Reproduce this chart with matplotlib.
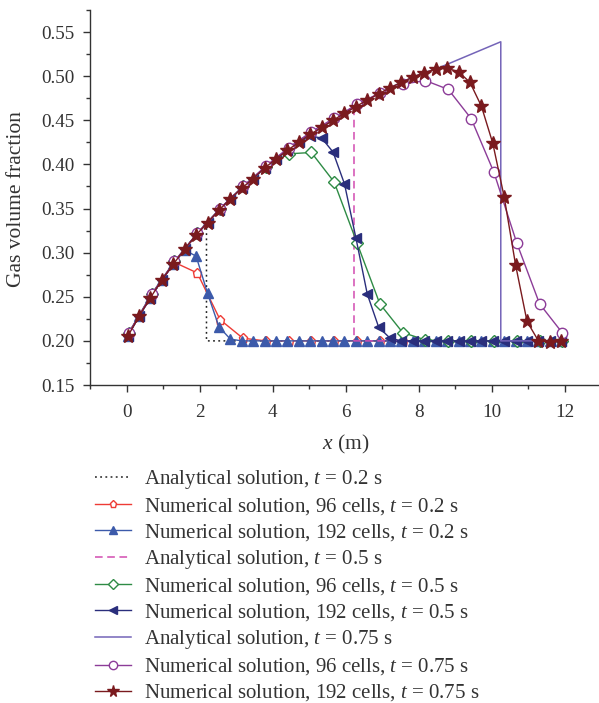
import matplotlib as mpl
import matplotlib.pyplot as plt
from matplotlib.ticker import MultipleLocator

mpl.rcParams.update(
    {
        "font.family": "serif",
        "font.serif": ["Liberation Serif", "DejaVu Serif"],
        "mathtext.fontset": "custom",
        "mathtext.rm": "Liberation Serif",
        "mathtext.it": "Liberation Serif:italic",
        "font.size": 13,
    }
)

# ---- data ------------------------------------------------------------------
# grid of the 192-cell markers (every 5th cell) and the 96-cell markers
x192 = [0.031, 0.344, 0.656, 0.969, 1.281, 1.594, 1.906, 2.219, 2.531, 2.844,
        3.156, 3.469, 3.781, 4.094, 4.406, 4.719, 5.031, 5.344, 5.656, 5.969,
        6.281, 6.594, 6.906, 7.219, 7.531, 7.844, 8.156, 8.469, 8.781, 9.094,
        9.406, 9.719, 10.031, 10.344, 10.656, 10.969, 11.281, 11.594, 11.906]
x96 = [0.0625, 0.6875, 1.3125, 1.9375, 2.5625, 3.1875, 3.8125, 4.4375, 5.0625, 5.6875,
       6.3125, 6.9375, 7.5625, 8.1875, 8.8125, 9.4375, 10.0625, 10.6875, 11.3125, 11.9375]

# t = 0.2 s
ana02_x = [0.0, 0.344, 0.656, 0.969, 1.281, 1.594, 1.906, 2.19, 2.19, 12.0]
ana02_y = [0.204, 0.228, 0.249, 0.269, 0.287, 0.304, 0.320, 0.334, 0.200, 0.200]
n96_02 = [0.209, 0.252, 0.289, 0.277, 0.224, 0.203, 0.200, 0.200, 0.200, 0.200,
          0.200, 0.200, 0.200, 0.200, 0.200, 0.200, 0.200, 0.200, 0.200, 0.200]
n192_02 = [0.205, 0.228, 0.249, 0.269, 0.287, 0.303, 0.296, 0.254, 0.216, 0.202,
           0.200, 0.200, 0.200, 0.200, 0.200, 0.200, 0.200, 0.200, 0.200, 0.200,
           0.200, 0.200, 0.200, 0.200, 0.200, 0.200, 0.200, 0.200, 0.200, 0.200,
           0.200, 0.200, 0.200, 0.200, 0.200, 0.200, 0.200, 0.200, 0.200]

# t = 0.5 s
ana05_x = [0.0, 0.344, 0.656, 0.969, 1.281, 1.594, 1.906, 2.219, 2.531, 2.844,
           3.156, 3.469, 3.781, 4.094, 4.406, 4.719, 5.031, 5.344, 5.656, 5.969,
           6.23, 6.23, 12.0]
ana05_y = [0.204, 0.228, 0.249, 0.269, 0.287, 0.304, 0.320, 0.334, 0.348, 0.361,
           0.373, 0.384, 0.396, 0.406, 0.416, 0.425, 0.434, 0.442, 0.450, 0.458,
           0.466, 0.200, 0.200]
n96_05 = [0.209, 0.253, 0.290, 0.322, 0.350, 0.375, 0.397, 0.412, 0.4135, 0.380,
          0.311, 0.242, 0.2095, 0.201, 0.200, 0.200, 0.200, 0.200, 0.200, 0.200]
n192_05 = [0.205, 0.228, 0.249, 0.269, 0.287, 0.304, 0.320, 0.334, 0.348, 0.361,
           0.373, 0.384, 0.396, 0.406, 0.416, 0.425, 0.432, 0.430, 0.414, 0.378,
           0.317, 0.253, 0.2155, 0.203, 0.200, 0.200, 0.200, 0.200, 0.200, 0.200,
           0.200, 0.200, 0.200, 0.200, 0.200, 0.200, 0.200, 0.200, 0.200]

# t = 0.75 s
ana075_x = [0.0, 0.344, 0.656, 0.969, 1.281, 1.594, 1.906, 2.219, 2.531, 2.844,
            3.156, 3.469, 3.781, 4.094, 4.406, 4.719, 5.031, 5.344, 5.656, 5.969,
            6.281, 6.594, 6.906, 7.219, 7.531, 7.844, 8.156, 8.469, 10.25, 10.25, 12.0]
ana075_y = [0.204, 0.228, 0.249, 0.269, 0.287, 0.304, 0.320, 0.334, 0.348, 0.361,
            0.373, 0.384, 0.396, 0.406, 0.416, 0.425, 0.434, 0.442, 0.450, 0.458,
            0.4655, 0.473, 0.480, 0.487, 0.493, 0.499, 0.504, 0.508, 0.539, 0.200, 0.200]
n96_075 = [0.209, 0.253, 0.290, 0.322, 0.350, 0.375, 0.398, 0.419, 0.437, 0.4525,
           0.468, 0.481, 0.491, 0.495, 0.485, 0.452, 0.391, 0.311, 0.242, 0.209]
n192_075 = [0.205, 0.228, 0.249, 0.269, 0.287, 0.304, 0.320, 0.334, 0.348, 0.361,
            0.373, 0.384, 0.396, 0.406, 0.416, 0.425, 0.434, 0.442, 0.450, 0.458,
            0.4655, 0.473, 0.480, 0.487, 0.493, 0.499, 0.504, 0.508, 0.509, 0.505,
            0.493, 0.466, 0.424, 0.363, 0.286, 0.222, 0.200, 0.199, 0.1995]

labels = [
    "Analytical solution, $t$ = 0.2 s",
    "Numerical solution, 96 cells, $t$ = 0.2 s",
    "Numerical solution, 192 cells, $t$ = 0.2 s",
    "Analytical solution, $t$ = 0.5 s",
    "Numerical solution, 96 cells, $t$ = 0.5 s",
    "Numerical solution, 192 cells, $t$ = 0.5 s",
    "Analytical solution, $t$ = 0.75 s",
    "Numerical solution, 96 cells, $t$ = 0.75 s",
    "Numerical solution, 192 cells, $t$ = 0.75 s",
]

BLACK = "#222222"
RED = "#EE3B35"
BLUE = "#3C5AAA"
MAGENTA = "#D24BB0"
GREEN = "#2E8B45"
NAVY = "#2A2E7C"
VIOLET = "#7464B8"
PURPLE = "#8C3C98"
DARKRED = "#7A1A1E"
INK = "#333333"

fig = plt.figure(figsize=(5.99, 7.03), dpi=100)
ax = fig.add_axes([90 / 599, 318 / 703, 509 / 599, 375 / 703])

lw = 1.0
ax.plot(ana02_x, ana02_y, ls=(0, (1.2, 2.2)), color=BLACK, lw=1.1, label=labels[0])
ax.plot(x96, n96_02, color=RED, lw=lw, marker="p", ms=6.5, mfc="white", mew=1.0, label=labels[1])
ax.plot(x192, n192_02, color=BLUE, lw=lw, marker="^", ms=7.5, mec=BLUE, label=labels[2])
ax.plot(ana05_x, ana05_y, ls=(0, (5, 3)), color=MAGENTA, lw=1.1, label=labels[3])
ax.plot(x96, n96_05, color=GREEN, lw=lw, marker="D", ms=6, mfc="white", mew=1.0, label=labels[4])
ax.plot(x192, n192_05, color=NAVY, lw=lw, marker="<", ms=7.5, label=labels[5])
ax.plot(ana075_x, ana075_y, color=VIOLET, lw=1.1, label=labels[6])
ax.plot(x96, n96_075, color=PURPLE, lw=lw, marker="o", ms=7.5, mfc="white", mew=1.0, label=labels[7])
ax.plot(x192, n192_075, color=DARKRED, lw=lw, marker="*", ms=10.5, label=labels[8])

ax.set_xlim(-1, 12.94)
ax.set_ylim(0.15, 0.575)
ax.xaxis.set_major_locator(MultipleLocator(2))
ax.xaxis.set_minor_locator(MultipleLocator(1))
ax.yaxis.set_major_locator(MultipleLocator(0.05))
ax.yaxis.set_minor_locator(MultipleLocator(0.025))
ax.yaxis.set_major_formatter(mpl.ticker.FormatStrFormatter("%.2f"))

for side in ("top", "right"):
    ax.spines[side].set_visible(False)
for side in ("left", "bottom"):
    ax.spines[side].set_color(INK)
    ax.spines[side].set_linewidth(1.0)
ax.tick_params(which="major", direction="out", length=5.2, width=1.0, color=INK,
               labelcolor=INK, labelsize=13.8)
ax.tick_params(which="minor", direction="out", length=3, width=1.0, color=INK)
ax.tick_params(axis="x", which="major", pad=8.5)
ax.tick_params(axis="y", which="major", pad=6)

ax.set_xlabel("$x$ (m)", fontsize=15.5, color=INK, va="center")
ax.xaxis.set_label_coords(0.503, -0.158)
ax.set_ylabel("Gas volume fraction", fontsize=15.5, color=INK, va="center")
ax.yaxis.set_label_coords(-0.145, 0.496)

leg = ax.legend(
    loc="upper left",
    bbox_to_anchor=(95 / 599, 1 - 468 / 703),
    bbox_transform=fig.transFigure,
    frameon=False,
    borderpad=0,
    borderaxespad=0,
    handlelength=1.75,
    handletextpad=0.6,
    labelspacing=0.245,
    markerscale=0.8,
    fontsize=15,
)
for txt in leg.get_texts():
    txt.set_color(INK)

fig.savefig("out.png", dpi=100)
